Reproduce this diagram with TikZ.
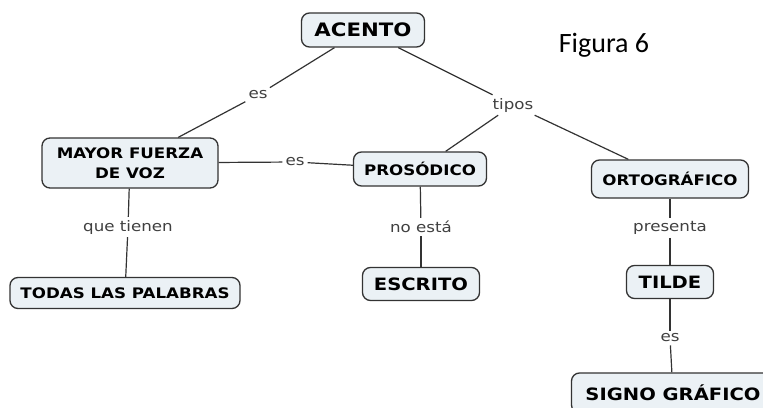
\documentclass[tikz,border=0pt]{standalone}
\usepackage{fontspec}
\setmainfont{DejaVu Sans}
\newfontfamily\boxfont[FakeStretch=1.15]{DejaVu Sans}
\newfontfamily\figfont{Carlito}
\begin{document}
\begin{tikzpicture}[x=1pt,y=-1pt,
  concept/.style={draw=black!80, line width=1.3pt, rounded corners=8pt, fill=boxfill,
    font=\boxfont\bfseries\fontsize{14.5}{20}\selectfont, align=center, inner sep=0pt},
  bigconcept/.style={concept, font=\boxfont\bfseries\fontsize{17}{20}\selectfont},
  lbl/.style={font=\boxfont\fontsize{14.5}{16}\selectfont, text=black!75, inner sep=3pt},
  conn/.style={draw=black!80, line width=1.2pt}]
\definecolor{boxfill}{HTML}{EBF1F5}
\clip (0,0) rectangle (763,407);
\fill[white] (0,0) rectangle (763,407);
% concepts
\node[concept, minimum width=123, minimum height=34, font=\boxfont\bfseries\fontsize{18.5}{20}\selectfont] (acento) at (363,30) {ACENTO};
\node[concept, minimum width=176, minimum height=50] (mayor) at (130,163) {MAYOR FUERZA\\DE VOZ};
\node[concept, minimum width=133, minimum height=34] (prosodico) at (420,169) {PROSÓDICO};
\node[concept, minimum width=157, minimum height=38] (ortografico) at (670,179) {ORTOGRÁFICO};
\node[concept, minimum width=230, minimum height=31] (todas) at (125,293) {TODAS LAS PALABRAS};
\node[bigconcept, minimum width=117, minimum height=33] (escrito) at (421,284) {ESCRITO};
\node[bigconcept, minimum width=87, minimum height=33] (tilde) at (670,282) {TILDE};
\node[bigconcept, minimum width=203, minimum height=40] (signo) at (673,393) {SIGNO GRÁFICO};
% title
\node[font=\figfont\fontsize{28}{32}\selectfont, inner sep=0pt] (fig) at (604,45) {Figura 6};
% linking labels
\node[lbl] (es1) at (258,95) {es};
\node[lbl] (tipos) at (513,105) {tipos};
\node[lbl] (es2) at (295,162) {es};
\node[lbl] (que) at (128,227) {que tienen};
\node[lbl] (noesta) at (421,227) {no está};
\node[lbl] (presenta) at (670,228) {presenta};
\node[lbl] (es3) at (670,338) {es};
% connectors
\draw[conn] (acento) -- (es1);
\draw[conn] (es1) -- (mayor);
\draw[conn] (acento) -- (tipos);
\draw[conn] (tipos) -- (prosodico);
\draw[conn] (tipos) -- (ortografico);
\draw[conn] (mayor) -- (es2);
\draw[conn] (es2) -- (prosodico);
\draw[conn] (mayor) -- (que);
\draw[conn] (que) -- (todas);
\draw[conn] (prosodico) -- (noesta);
\draw[conn] (noesta) -- (escrito);
\draw[conn] (ortografico) -- (presenta);
\draw[conn] (presenta) -- (tilde);
\draw[conn] (tilde) -- (es3);
\draw[conn] (es3) -- (signo);
\end{tikzpicture}
\end{document}
